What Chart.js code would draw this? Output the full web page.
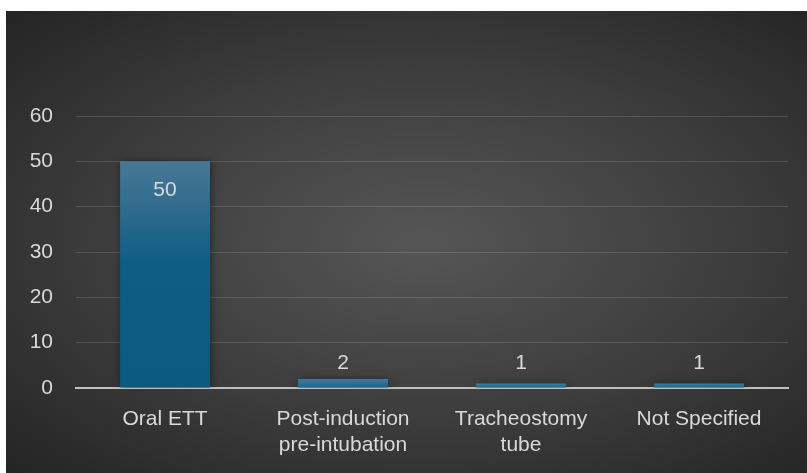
<!DOCTYPE html>
<html>
<head>
<meta charset="utf-8">
<script src="https://cdn.jsdelivr.net/npm/chart.js@4"></script>
<style>
  html, body { margin: 0; padding: 0; background: #fff; }
  #wrap {
    position: absolute; left: 6px; top: 11px; width: 801px; height: 462px;
    background: radial-gradient(ellipse farthest-corner at 52% 50%, #565656 0%, #3c3c3c 55%, #242424 100%);
  }
</style>
</head>
<body>
<div id="wrap"><canvas id="chart"></canvas></div>
<script>
let categories = [['Oral ETT'], ['Post-induction', 'pre-intubation'], ['Tracheostomy', 'tube'], ['Not Specified']]
let counts = [50, 2, 1, 1]
let yTicks = [0, 10, 20, 30, 40, 50, 60]

let textColor = '#d9d9d9'
let fontFamily = '"Liberation Sans", Arial, sans-serif'
let fontSize = 21

// gradient per bar, lighter at the top
function barFill(ctx) {
  let chart = ctx.chart
  let y = chart.scales.y
  if (!chart.chartArea || !y || ctx.parsed === undefined) return '#0e5a80'
  let top = y.getPixelForValue(ctx.parsed.y)
  let base = y.getPixelForValue(0)
  if (base - top < 1) return '#0e5a80'
  let g = chart.ctx.createLinearGradient(0, top, 0, base)
  if (base - top > 40) {
    g.addColorStop(0, '#4a7896')
    g.addColorStop(0.45, '#0f5d84')
    g.addColorStop(1, '#0c5a80')
  } else {
    g.addColorStop(0, '#3a7da3')
    g.addColorStop(1, '#146690')
  }
  return g
}

let shadowPlugin = {
  id: 'barShadow',
  beforeDatasetsDraw(chart) {
    let c = chart.ctx
    c.save()
    c.shadowColor = 'rgba(0,0,0,0.45)'
    c.shadowBlur = 8
    c.shadowOffsetX = 1
    c.shadowOffsetY = 1
  },
  afterDatasetsDraw(chart) {
    chart.ctx.restore()
  }
}

let labelPlugin = {
  id: 'valueLabels',
  afterDatasetsDraw(chart) {
    let c = chart.ctx
    let meta = chart.getDatasetMeta(0)
    let base = chart.scales.y.getPixelForValue(0)
    c.save()
    c.fillStyle = textColor
    c.font = fontSize + 'px ' + fontFamily
    c.textAlign = 'center'
    c.textBaseline = 'middle'
    meta.data.forEach(function(bar, i) {
      let ly = Math.min(bar.y + 29, base - 25)
      c.fillText(String(counts[i]), bar.x, ly)
    })
    c.restore()
  }
}

let chart = new Chart(document.getElementById('chart'), {
  type: 'bar',
  data: {
    labels: categories,
    datasets: [{
      data: counts,
      backgroundColor: barFill,
      borderWidth: 0,
      categoryPercentage: 1,
      barPercentage: 0.505
    }]
  },
  options: {
    responsive: true,
    maintainAspectRatio: false,
    animation: false,
    layout: { padding: { top: 105, right: 19, left: 0, bottom: 0 } },
    plugins: { legend: { display: false }, tooltip: { enabled: false } },
    scales: {
      x: {
        grid: { display: false, drawTicks: false },
        border: { color: '#bfbfbf', width: 2 },
        ticks: { color: textColor, font: { size: fontSize, family: fontFamily, lineHeight: 1.25 }, padding: 18, maxRotation: 0 },
        afterFit: function(s) { s.height = 85 }
      },
      y: {
        min: 0,
        max: 60,
        afterBuildTicks: function(s) { s.ticks = yTicks.map(v => ({ value: v })) },
        grid: { color: 'rgba(255,255,255,0.13)', lineWidth: 1, drawTicks: false },
        border: { display: false },
        ticks: { color: textColor, font: { size: fontSize, family: fontFamily }, padding: 23 },
        afterFit: function(s) { s.width = 70 }
      }
    }
  },
  plugins: [shadowPlugin, labelPlugin]
})
</script>
</body>
</html>
